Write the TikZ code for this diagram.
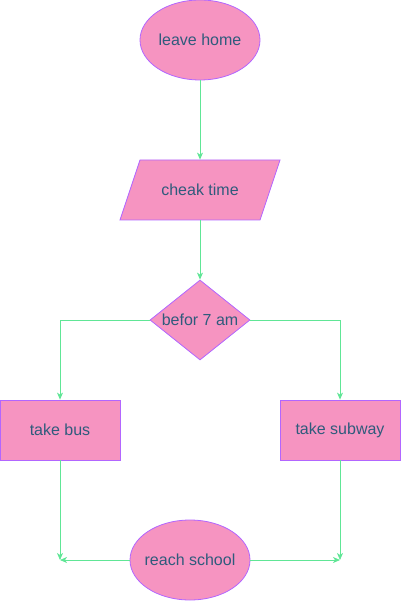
\documentclass[tikz,border=0pt]{standalone}
\usepackage{fontspec}
\setmainfont{Liberation Sans}
\usetikzlibrary{shapes.geometric,arrows.meta}
\definecolor{boxfill}{HTML}{F694C1}
\definecolor{boxline}{HTML}{B266FF}
\definecolor{boxtext}{HTML}{2F5B7C}
\definecolor{flowline}{HTML}{60E696}
\tikzset{
  box/.style={draw=boxline,fill=boxfill,text=boxtext,font=\fontsize{16}{19}\selectfont,inner sep=0pt,line width=0.8pt},
  oval/.style={box,ellipse,inner xsep=-5pt,minimum width=120,minimum height=80},
  rect/.style={box,rectangle,minimum width=120,minimum height=60},
  flow/.style={draw=flowline,line width=0.8pt,-{Stealth[length=7,width=6,inset=2]}},
}
\begin{document}
\begin{tikzpicture}[x=1pt,y=-1pt]
\useasboundingbox (0,0) rectangle (401,601);
% nodes
\node[oval] (home) at (200,40) {leave home};
\coordinate (c) at (200,190);
\path[box] ([shift={(-60,-30)}]c) -- ([shift={(80,-30)}]c) -- ([shift={(60,30)}]c) -- ([shift={(-80,30)}]c) -- cycle;
\node[box,draw=none,fill=none,minimum width=140,minimum height=60] (check) at (c) {cheak time};
\node[box,diamond,aspect=1.25,minimum width=100,minimum height=80] (early) at (200,320) {befor 7 am};
\node[rect] (bus) at (60,430) {take bus};
\node[rect] (subway) at (340,430) {take subway};
\node[oval] (school) at (190,560) {reach school};
\coordinate (busend) at (60,560);
\coordinate (subend) at (340,560);
% connectors
\draw[flow] (home) -- (check);
\draw[flow] (check) -- (early);
\draw[flow] (early.west) -| (bus);
\draw[flow] (early.east) -| (subway);
\draw[flow] (bus) -- (busend);
\draw[flow] (subway) -- (subend);
\draw[flow] (school) -- (busend);
\draw[flow] (school) -- (subend);
\end{tikzpicture}
\end{document}
